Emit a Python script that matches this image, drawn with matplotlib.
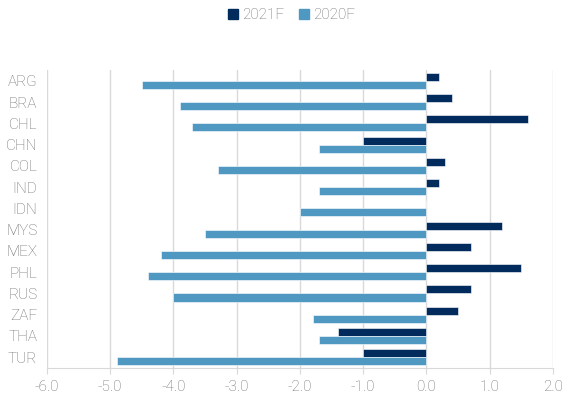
import numpy as np
import matplotlib
matplotlib.use("Agg")
import matplotlib.pyplot as plt
from matplotlib.lines import Line2D

# Data
countries = ['ARG', 'BRA', 'CHL', 'CHN', 'COL', 'IND', 'IDN',
             'MYS', 'MEX', 'PHL', 'RUS', 'ZAF', 'THA', 'TUR']
f2021 = [0.2, 0.4, 1.6, -1.0, 0.3, 0.2, 0.0,
         1.2, 0.7, 1.5, 0.7, 0.5, -1.4, -1.0]
f2020 = [-4.5, -3.9, -3.7, -1.7, -3.3, -1.7, -2.0,
         -3.5, -4.2, -4.4, -4.0, -1.8, -1.7, -4.9]
xticks = [-6, -5, -4, -3, -2, -1, 0, 1, 2]

dark = '#002B5C'
light = '#4F98C2'
grey = '#6E6E6E'

plt.rcParams['font.family'] = ['Roboto', 'DejaVu Sans']
plt.rcParams['font.weight'] = 'light'

fig = plt.figure(figsize=(5.69, 3.99), dpi=100)
ax = fig.add_axes([0.0826, 0.078, 0.889, 0.746])

y = np.arange(len(countries))
h = 0.38
ax.barh(y - h / 2, f2021, height=h, color=dark, edgecolor='white', linewidth=0.4, zorder=3)
ax.barh(y + h / 2, f2020, height=h, color=light, edgecolor='white', linewidth=0.4, zorder=3)

ax.set_ylim(len(countries) - 0.5, -0.5)
ax.set_xlim(-6, 2)
ax.set_yticks(y)
ax.set_yticklabels(countries)
ax.set_xticks(xticks)
ax.set_xticklabels([f"{v:.1f}" for v in xticks])

ax.grid(axis='x', color='#D9D9D9', linewidth=1, zorder=0)
for s in ['top', 'right', 'left']:
    ax.spines[s].set_visible(False)
ax.spines['bottom'].set_color('#D9D9D9')
ax.tick_params(axis='x', colors='#D9D9D9', length=4, labelcolor=grey, labelsize=11, pad=5)
ax.tick_params(axis='y', length=0, labelcolor=grey, labelsize=11, pad=7)

handles = [Line2D([], [], marker='s', linestyle='', color=dark, markersize=7),
           Line2D([], [], marker='s', linestyle='', color=light, markersize=7)]
fig.legend(handles, ['2021F', '2020F'], loc='center', bbox_to_anchor=(0.51, 0.962),
           ncol=2, frameon=False, fontsize=11, labelcolor=grey,
           handletextpad=0.1, columnspacing=0.8, handlelength=1.0)

fig.savefig('out.png', dpi=100)
